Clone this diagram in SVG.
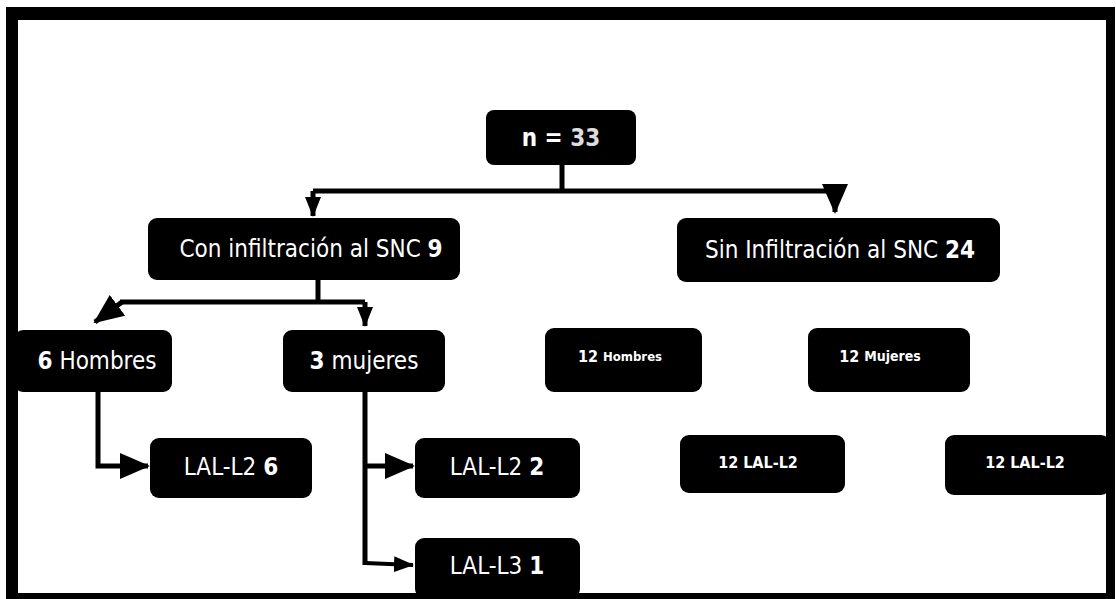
<svg xmlns="http://www.w3.org/2000/svg" width="1116" height="599" viewBox="0 0 1116 599">
<style>
.box{fill:#000;}
.t{font-family:"DejaVu Sans Condensed","DejaVu Sans",sans-serif;fill:#fff;font-size:24px;text-anchor:middle;dominant-baseline:central;}
.b{font-weight:bold;}
.s{font-size:16px;font-weight:bold;}
.ln{fill:none;stroke:#000;stroke-width:5;}
.thin{fill:none;stroke:#000;stroke-width:4;}
</style>
<defs>
<marker id="ah" markerUnits="userSpaceOnUse" markerWidth="30" markerHeight="26" refX="28" refY="13" orient="auto">
<path d="M0,0 L30,13 L0,26 Z" fill="#000"/>
</marker>
<marker id="ahs" markerUnits="userSpaceOnUse" markerWidth="20" markerHeight="16" refX="19" refY="8" orient="auto">
<path d="M0,0 L20,8 L0,16 Z" fill="#000"/>
</marker>
</defs>
<rect width="1116" height="599" fill="#fff"/>
<path id="frame" d="M6,7 H1115 V599 H6 Z M18,20 V593 H1106 V20 Z" fill="#000" fill-rule="evenodd"/>
<g id="connectors">
<polyline class="ln" points="562,163 562,191"/>
<polyline class="ln" points="313,191 835,191"/>
<line class="ln" x1="313" y1="191" x2="313" y2="216" marker-end="url(#ahs)"/>
<line class="ln" x1="835" y1="191" x2="835" y2="212" marker-end="url(#ah)"/>
<polyline class="ln" points="318,280 318,302"/>
<polyline class="ln" points="120,302 365,302"/>
<line class="ln" x1="122" y1="302" x2="95" y2="322" marker-end="url(#ah)"/>
<line class="ln" x1="365" y1="302" x2="365" y2="326" marker-end="url(#ahs)"/>
<polyline class="ln" points="98,392 98,466 148,466" marker-end="url(#ah)"/>
<polyline class="ln" points="365,392 365,565"/>
<line class="ln" x1="363" y1="466" x2="413" y2="466" marker-end="url(#ah)"/>
<polyline class="thin" points="365,563 413,565" marker-end="url(#ahs)"/>
</g>
<g id="n33"><rect class="box" x="486" y="110" width="150" height="55" rx="8"/><text class="t b" x="561" y="138" font-size="27">n = <tspan fill="#ddd">33</tspan></text></g>
<g id="con"><rect class="box" x="148" y="218" width="312" height="62" rx="9"/><text class="t" x="311" y="249">Con infiltración al SNC <tspan class="b">9</tspan></text></g>
<g id="sin"><rect class="box" x="677" y="218" width="323" height="64" rx="9"/><text class="t" x="840" y="250">Sin Infiltración al SNC <tspan class="b">24</tspan></text></g>
<g id="hombres6"><rect class="box" x="14" y="330" width="158" height="62" rx="9"/><text class="t" x="97" y="361"><tspan class="b">6</tspan> Hombres</text></g>
<g id="mujeres3"><rect class="box" x="283" y="330" width="162" height="62" rx="9"/><text class="t" x="364" y="361"><tspan class="b">3</tspan> mujeres</text></g>
<g id="hombres12"><rect class="box" x="545" y="328" width="157" height="64" rx="9"/><text class="t s" x="620" y="356">12 <tspan font-size="13">Hombres</tspan></text></g>
<g id="mujeres12"><rect class="box" x="808" y="328" width="162" height="64" rx="9"/><text class="t s" x="880" y="356">12 <tspan font-size="14">Mujeres</tspan></text></g>
<g id="lal26"><rect class="box" x="150" y="438" width="162" height="60" rx="9"/><text class="t" x="231" y="467">LAL-L2 <tspan class="b">6</tspan></text></g>
<g id="lal22"><rect class="box" x="415" y="438" width="165" height="60" rx="9"/><text class="t" x="497" y="467">LAL-L2 <tspan class="b">2</tspan></text></g>
<g id="lal31"><rect class="box" x="415" y="538" width="165" height="60" rx="9"/><text class="t" x="497" y="566">LAL-L3 <tspan class="b">1</tspan></text></g>
<g id="lal12a"><rect class="box" x="680" y="435" width="165" height="58" rx="9"/><text class="t s" x="758" y="462" font-size="17">12 LAL-L2</text></g>
<g id="lal12b"><rect class="box" x="945" y="435" width="165" height="60" rx="9"/><text class="t s" x="1025" y="462" font-size="17">12 LAL-L2</text></g>
</svg>
